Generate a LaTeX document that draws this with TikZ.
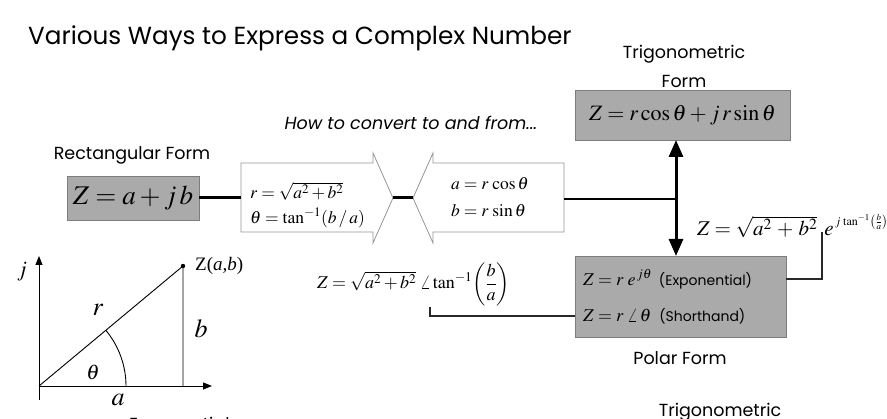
\documentclass[tikz,border=0pt]{standalone}
\usepackage{mathptmx}
\usepackage{amsmath}
\usepackage{fontspec}
\setmainfont{Liberation Serif}
\newfontfamily\gothic{Poppins}
\usetikzlibrary{arrows.meta}
\definecolor{boxgray}{RGB}{170,170,170}
\definecolor{boxedge}{RGB}{125,125,125}
\definecolor{arredge}{RGB}{150,150,150}
\definecolor{linegray}{RGB}{40,40,40}
\newcommand{\fsz}[1]{\fontsize{#1}{#1}\selectfont}
\begin{document}
\begin{tikzpicture}[x=1pt,y=-1pt,
  gbox/.style={draw=boxedge, fill=boxgray, line width=0.8pt, inner sep=0},
  lbl/.style={font=\gothic\fsz{17.5}, inner sep=0},
  mth/.style={inner sep=0},
  mainline/.style={line width=3pt},
  link/.style={draw=linegray, line width=1.2pt},
  blockarrow/.style={draw=arredge, fill=white, line width=0.8pt},
  axis/.style={line width=0.9pt, -{Triangle[length=9pt,width=7pt]}},
]
\useasboundingbox (0,0) rectangle (887,419);

% title
\node[lbl, font=\gothic\fsz{24.7}, anchor=west] (title) at (28,38) {Various Ways to Express a Complex Number};

% trigonometric form
\node[lbl] (trigl1) at (684,54) {Trigonometric};
\node[lbl] (trigl2) at (684,81) {Form};
\node[gbox, minimum width=215, minimum height=50] (trig) at (682.5,115)
  {\fsz{22}$Z = r\cos\theta + j\,r\sin\theta$};

% rectangular form
\node[lbl] (rectl) at (132,155) {Rectangular Form};
\node[gbox, minimum width=132, minimum height=44] (rect) at (133,198)
  {\fsz{27}$Z = a + j\,b$};

% conversion block arrows
\node[lbl, font=\gothic\itshape\fsz{17.5}] (how) at (411,123) {How to convert to and from...};
\coordinate (a1tip) at (393,198);
\coordinate (a2tip) at (413,198);
\draw[blockarrow] (241,163) -- (373,163) -- (373,153) -- (a1tip) -- (373,243) -- (373,232) -- (241,232) -- cycle;
\draw[blockarrow] (a2tip) -- (433,153) -- (433,163) -- (564,163) -- (564,232) -- (433,232) -- (433,243) -- cycle;
\coordinate (a1left) at (241,198);
\coordinate (a2right) at (564,199);
\node[mth, anchor=west] (f1) at (250,191) {\fsz{17.5}$r = \sqrt{a^2+b^2}$};
\node[mth, anchor=west] (f2) at (250,218) {\fsz{17.5}$\theta = \tan^{-1}(b\,/\,a)$};
\node[mth, anchor=west] (f3) at (451,184) {\fsz{17.5}$a = r\,\cos\theta$};
\node[mth, anchor=west] (f4) at (451,211) {\fsz{17.5}$b = r\,\sin\theta$};

\draw[mainline] (rect.east) -- (a1left);
\draw[mainline] (a1tip) -- (a2tip);

% vertical double arrow
\coordinate (vtop) at (676,140);
\coordinate (vbot) at (676,256);
\coordinate (vmid) at (676,199);
\draw[line width=3pt, {Triangle[length=17pt,width=14pt]}-{Triangle[length=17pt,width=14pt]}] (vtop) -- (vbot);
\draw[line width=2.2pt] (a2right) -- (vmid);

% polar form
\node[gbox, minimum width=211, minimum height=81] (polar) at (680.5,296.5) {};
\node[mth, anchor=west] (pexp) at (583,279) {\fsz{18}$Z = r\;e^{\,j\theta}$\hspace{7pt}{\gothic\fsz{14}(Exponential)}};
\node[mth, anchor=west] (psh) at (583,316) {\fsz{18}$Z = r\;\angle\,\theta$\hspace{8pt}{\gothic\fsz{14}(Shorthand)}};
\node[lbl] (polarl) at (680,358) {Polar Form};

% expanded formulas
\node[mth, anchor=west] (zexp) at (697,226) {\fsz{21}$Z = \sqrt{a^2\,+\,b^2}\;\, e^{\raisebox{3pt}{\fsz{12}$\,j\,\tan^{-1}\!\left(\frac{b}{a}\right)$}}$};
\node[mth, anchor=west] (zang) at (317,284) {\fsz{18}$Z = \sqrt{a^2+b^2}\;\angle\tan^{-1}\!\left(\dfrac{b}{a}\right)$};
\coordinate (eunder) at (822,232);
\coordinate (aunder) at (430,307);
\draw[link] (polar.east |- pexp.center) -| (eunder);
\draw[link] (polar.west |- psh.center) -| (aunder);

% triangle diagram
\coordinate (O) at (39,386);
\coordinate (P) at (183,266);
\coordinate (xend) at (212,386);
\coordinate (yend) at (39,256);
\draw[axis] (39,400) -- (yend);
\draw[axis] (O) -- (xend);
\draw[line width=0.9pt] (O) -- (P) -- (183,386);
\fill (P) circle (2.2pt);
\draw[line width=0.9pt] (126,386) arc[start angle=0, end angle=-39.8, radius=87];
\node[mth] (jl) at (22,272) {\fsz{22}$j$};
\node[mth, anchor=west] (zl) at (195,266) {\fsz{19}Z(\textit{a,b})};
\node[mth] (rl) at (98,310) {\fsz{26}$r$};
\node[mth] (bl) at (201,329) {\fsz{26}$b$};
\node[mth] (thl) at (93,372) {\fsz{21}$\theta$};
\node[mth] (al) at (118,400) {\fsz{26}$a$};

% cut-off labels at the bottom
\node[lbl, anchor=north west] (expb) at (129,416.5) {Exponential};
\node[lbl] (trigb) at (720,412) {Trigonometric};
\end{tikzpicture}
\end{document}
